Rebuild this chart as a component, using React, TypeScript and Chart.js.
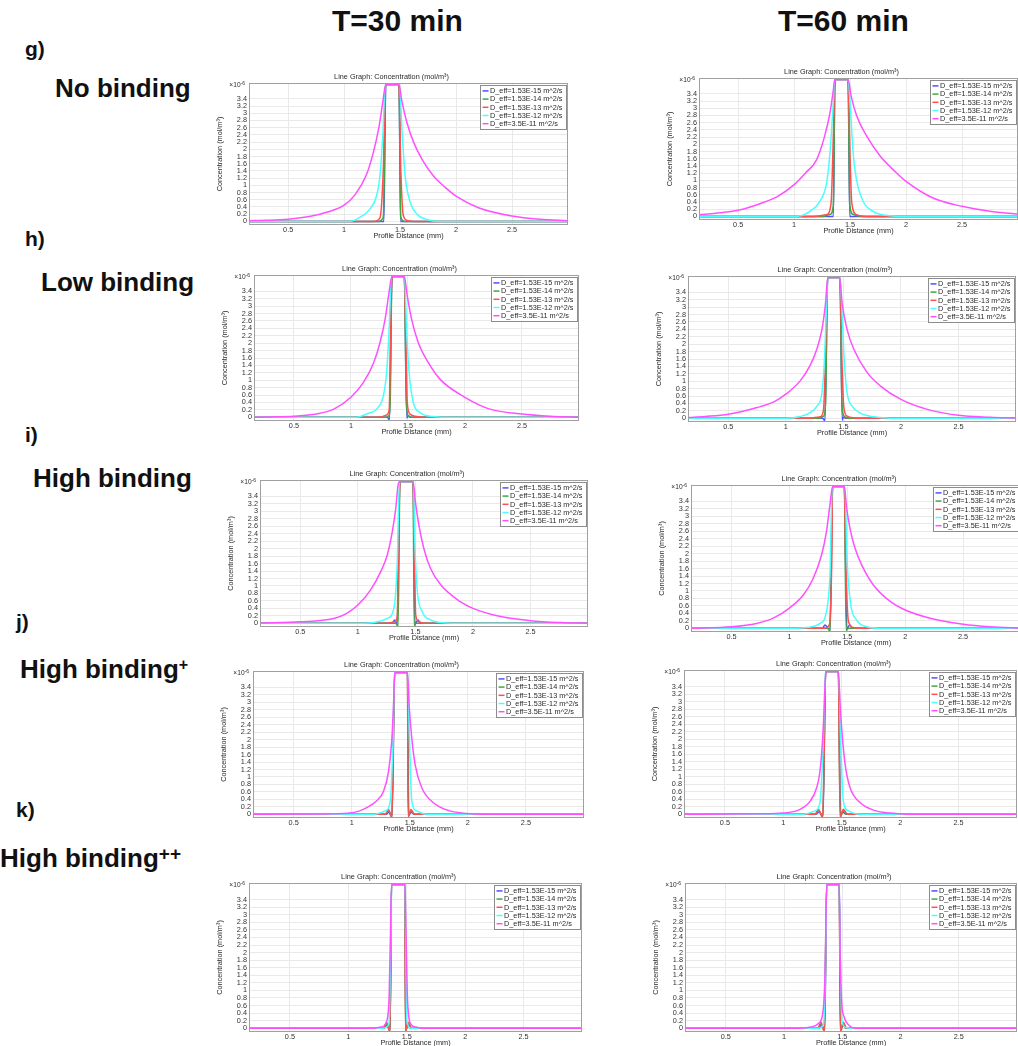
import React, { useEffect, useRef } from "react";
import { Chart, registerables } from "chart.js";
Chart.register(...registerables);

type Pt = [number, number];

const FONT = '"Liberation Sans", Arial, sans-serif';

const SERIES_LABELS = [
  "D_eff=1.53E-15 m^2/s",
  "D_eff=1.53E-14 m^2/s",
  "D_eff=1.53E-13 m^2/s",
  "D_eff=1.53E-12 m^2/s",
  "D_eff=3.5E-11 m^2/s",
];
const SERIES_COLORS = ["#5050ff", "#40a840", "#ff5050", "#48ffff", "#ff50ff"];
const X_TICKS = [0.5, 1, 1.5, 2, 2.5];
const Y_TICKS = [0, 0.2, 0.4, 0.6, 0.8, 1, 1.2, 1.4, 1.6, 1.8, 2, 2.2, 2.4, 2.6, 2.8, 3, 3.2, 3.4];
const X_MIN = 0.15;
const X_MAX = 3.0;
const Y_MIN = -0.1;
const Y_MAX = 3.84;
const CHART_TITLE = "Line Graph: Concentration (mol/m³)";
const X_TITLE = "Profile Distance (mm)";
const Y_TITLE = "Concentration (mol/m³)";
const COLUMN_HEADERS = ["T=30 min", "T=60 min"];

// ---------- g) No binding ----------
const G30_BLUE: Pt[] = [[0.15,0],[1.355,0],[1.372,3.8],[1.49,3.8],[1.505,0],[3.0,0]];
const G30_GREEN: Pt[] = [[0.15,0],[1.31,0],[1.35,0.12],[1.372,3.8],[1.49,3.8],[1.505,0.12],[1.54,0],[3.0,0]];
const G30_RED: Pt[] = [[0.15,0],[1.26,0],[1.32,0.1],[1.35,1.45],[1.37,3.8],[1.49,3.8],[1.506,1.45],[1.53,0.15],[1.57,0.02],[1.62,0],[3.0,0]];
const G30_CYAN: Pt[] = [[0.15,0],[1.05,0],[1.14,0.11],[1.23,0.34],[1.29,0.71],[1.32,1.26],[1.345,2.37],[1.368,3.8],[1.493,3.8],[1.52,2.37],[1.545,1.26],[1.59,0.53],[1.65,0.2],[1.74,0.05],[1.86,0],[3.0,0]];
const G30_MAGENTA: Pt[] = [[0.15,0.02],[0.3,0.03],[0.5,0.06],[0.7,0.14],[0.85,0.26],[1.0,0.45],[1.1,0.75],[1.2,1.3],[1.26,1.9],[1.31,2.6],[1.345,3.3],[1.372,3.8],[1.49,3.8],[1.515,3.35],[1.56,2.75],[1.62,2.2],[1.7,1.7],[1.8,1.25],[1.9,0.95],[2.0,0.7],[2.2,0.38],[2.5,0.15],[2.75,0.06],[3.0,0.02]];

const G60_BLUE: Pt[] = [[0.15,0],[1.35,0],[1.365,3.8],[1.482,3.8],[1.497,0],[3,0]];
const G60_GREEN: Pt[] = [[0.15,0],[1.25,0],[1.32,0.05],[1.35,0.3],[1.365,3.8],[1.482,3.8],[1.497,0.3],[1.53,0.05],[1.6,0],[3,0]];
const G60_RED: Pt[] = [[0.15,0],[1.17,0],[1.29,0.05],[1.33,0.37],[1.35,2.2],[1.364,3.8],[1.482,3.8],[1.495,2.2],[1.515,0.37],[1.557,0.05],[1.65,0],[3,0]];
const G60_CYAN: Pt[] = [[0.15,0],[1.02,0],[1.14,0.14],[1.23,0.42],[1.29,0.93],[1.32,1.76],[1.35,3.15],[1.363,3.8],[1.482,3.8],[1.5,3.15],[1.527,1.76],[1.557,1.02],[1.616,0.42],[1.705,0.14],[1.82,0.03],[1.94,0],[3,0]];
const G60_MAGENTA: Pt[] = [[0.15,0.05],[0.3,0.09],[0.5,0.17],[0.7,0.36],[0.85,0.55],[1.0,0.88],[1.1,1.2],[1.2,1.57],[1.27,2.2],[1.32,2.87],[1.35,3.5],[1.363,3.8],[1.482,3.8],[1.51,3.33],[1.56,2.78],[1.65,2.22],[1.77,1.67],[1.9,1.25],[2.0,0.97],[2.24,0.51],[2.5,0.28],[2.75,0.14],[3.0,0.065]];

// ---------- h) Low binding ----------
const H30_BLUE: Pt[] = [[0.15,0],[1.32,0],[1.338,-0.08],[1.36,3.8],[1.468,3.8],[1.49,-0.02],[1.502,0.05],[1.52,0],[3,0]];
const H30_GREEN: Pt[] = [[0.15,0],[1.3,0],[1.335,0.05],[1.345,0.5],[1.36,3.8],[1.468,3.8],[1.485,0.5],[1.5,0.05],[1.53,0],[3,0]];
const H30_RED: Pt[] = [[0.15,0],[1.25,0],[1.313,0.06],[1.336,0.22],[1.348,2.38],[1.36,3.8],[1.468,3.8],[1.48,2.38],[1.494,0.4],[1.518,0.09],[1.576,0.02],[1.66,0],[3,0]];
const H30_CYAN: Pt[] = [[0.15,0],[1.05,0],[1.137,0.09],[1.225,0.22],[1.284,0.58],[1.313,1.21],[1.335,2.38],[1.355,3.8],[1.47,3.8],[1.488,2.38],[1.51,1.21],[1.547,0.4],[1.605,0.13],[1.72,0.02],[1.84,0],[3,0]];
const H30_MAGENTA: Pt[] = [[0.15,0],[0.3,0.01],[0.5,0.03],[0.7,0.09],[0.85,0.22],[1.0,0.54],[1.11,0.94],[1.2,1.48],[1.255,2.02],[1.3,2.65],[1.33,3.28],[1.36,3.8],[1.468,3.8],[1.494,3.28],[1.532,2.65],[1.59,2.02],[1.678,1.48],[1.78,1.03],[2.0,0.54],[2.22,0.22],[2.5,0.09],[2.75,0.03],[3.0,0]];

const H60_BLUE: Pt[] = [[0.15,0],[1.32,0],[1.34,-0.07],[1.364,3.8],[1.47,3.8],[1.49,-0.05],[1.5,0.03],[1.52,0],[3,0]];
const H60_GREEN: Pt[] = [[0.15,0],[1.28,0],[1.33,0.06],[1.345,0.4],[1.364,3.8],[1.47,3.8],[1.488,0.4],[1.505,0.06],[1.55,0],[3,0]];
const H60_RED: Pt[] = [[0.15,0],[1.18,0],[1.3,0.04],[1.328,0.24],[1.343,1.5],[1.362,3.8],[1.47,3.8],[1.488,1.5],[1.503,0.33],[1.532,0.06],[1.648,0],[3,0]];
const H60_CYAN: Pt[] = [[0.15,0],[1.0,0],[1.125,0.05],[1.212,0.15],[1.27,0.33],[1.314,0.69],[1.334,1.5],[1.352,2.86],[1.363,3.8],[1.47,3.8],[1.488,2.86],[1.509,1.5],[1.532,0.69],[1.576,0.33],[1.648,0.14],[1.765,0.04],[1.91,0],[3,0]];
const H60_MAGENTA: Pt[] = [[0.15,0.02],[0.3,0.05],[0.5,0.11],[0.75,0.29],[0.9,0.45],[1.0,0.65],[1.125,1.01],[1.21,1.42],[1.27,1.87],[1.314,2.4],[1.343,3.04],[1.366,3.8],[1.468,3.8],[1.488,3.13],[1.532,2.4],[1.59,1.87],[1.706,1.24],[1.823,0.87],[2.0,0.51],[2.23,0.24],[2.5,0.08],[2.78,0.03],[3.0,0.01]];

// ---------- i) High binding ----------
const I30_BLUE: Pt[] = [[0.15,0],[1.3,0],[1.32,0.09],[1.342,-0.03],[1.366,3.8],[1.48,3.8],[1.495,-0.03],[1.523,0.09],[1.545,0],[3,0]];
const I30_GREEN: Pt[] = [[0.15,0],[1.33,0],[1.35,-0.09],[1.366,3.8],[1.48,3.8],[1.49,-0.09],[1.505,0],[3,0]];
const I30_RED: Pt[] = [[0.15,0],[1.256,0],[1.32,0.04],[1.342,0.18],[1.355,2.46],[1.366,3.8],[1.48,3.8],[1.49,2.2],[1.503,0.22],[1.532,0.04],[1.575,0],[3,0]];
const I30_CYAN: Pt[] = [[0.15,0],[1.05,0],[1.14,0.02],[1.255,0.13],[1.313,0.4],[1.342,1.57],[1.362,3.8],[1.482,3.8],[1.497,2.01],[1.517,0.85],[1.56,0.31],[1.63,0.09],[1.72,0.02],[1.83,0],[3,0]];
const I30_MAGENTA: Pt[] = [[0.15,0.01],[0.5,0.04],[0.79,0.13],[0.9,0.26],[1.0,0.49],[1.11,0.89],[1.2,1.39],[1.256,1.83],[1.3,2.46],[1.33,3.09],[1.35,3.71],[1.366,3.8],[1.48,3.8],[1.5,3.26],[1.53,2.64],[1.573,2.01],[1.63,1.48],[1.72,1.03],[1.89,0.58],[2.0,0.4],[2.24,0.18],[2.5,0.07],[2.76,0.02],[3.0,0]];

const I60_BLUE: Pt[] = [[0.15,0],[1.285,0],[1.307,0.09],[1.35,-0.06],[1.373,3.8],[1.474,3.8],[1.495,-0.03],[1.52,0.09],[1.545,0],[3,0]];
const I60_GREEN: Pt[] = [[0.15,0],[1.33,0],[1.352,-0.08],[1.373,3.8],[1.474,3.8],[1.49,-0.06],[1.51,0],[3,0]];
const I60_RED: Pt[] = [[0.15,0],[1.3,0],[1.345,0.09],[1.365,1.7],[1.373,3.8],[1.474,3.8],[1.487,1.7],[1.51,0.18],[1.55,0.02],[1.61,0],[3,0]];
const I60_CYAN: Pt[] = [[0.15,0],[1.05,0],[1.15,0.02],[1.264,0.13],[1.32,0.45],[1.35,1.43],[1.37,3.8],[1.478,3.8],[1.5,1.7],[1.53,0.63],[1.58,0.22],[1.67,0.04],[1.78,0],[3,0]];
const I60_MAGENTA: Pt[] = [[0.15,0],[0.5,0.04],[0.716,0.13],[0.86,0.27],[1.0,0.54],[1.12,0.89],[1.206,1.34],[1.278,1.97],[1.32,2.59],[1.35,3.31],[1.373,3.8],[1.474,3.8],[1.494,3.22],[1.523,2.68],[1.566,2.15],[1.624,1.7],[1.725,1.16],[1.87,0.72],[2.0,0.49],[2.215,0.27],[2.5,0.11],[2.73,0.04],[3.0,0]];

// ---------- j) High binding+ ----------
const J30_BLUE: Pt[] = [[0.15,0],[1.3,0],[1.32,0.06],[1.348,-0.05],[1.37,3.8],[1.48,3.8],[1.49,-0.04],[1.512,0.06],[1.535,0],[3,0]];
const J30_GREEN: Pt[] = [[0.15,0],[1.29,0],[1.315,0.1],[1.345,-0.08],[1.37,3.8],[1.48,3.8],[1.487,-0.06],[1.51,0.1],[1.54,0],[3,0]];
const J30_RED: Pt[] = [[0.15,0],[1.29,0],[1.317,0.13],[1.346,-0.09],[1.37,3.8],[1.48,3.8],[1.486,-0.07],[1.51,0.13],[1.54,0],[3,0]];
const J30_CYAN: Pt[] = [[0.15,0],[1.19,0],[1.29,0.09],[1.33,0.31],[1.356,2.04],[1.368,3.8],[1.482,3.8],[1.497,2.04],[1.517,0.36],[1.56,0.09],[1.646,0],[3,0]];
const J30_MAGENTA: Pt[] = [[0.15,0],[0.8,0.01],[1.0,0.04],[1.13,0.18],[1.216,0.36],[1.274,0.62],[1.317,1.15],[1.346,2.04],[1.36,2.93],[1.37,3.8],[1.48,3.8],[1.494,2.93],[1.517,2.04],[1.546,1.33],[1.603,0.71],[1.703,0.31],[1.846,0.09],[1.99,0.02],[2.13,0],[3,0]];

const J60_BLUE: Pt[] = [[0.15,0],[1.28,0],[1.305,0.06],[1.34,-0.04],[1.363,3.8],[1.471,3.8],[1.49,-0.03],[1.51,0.06],[1.535,0],[3,0]];
const J60_GREEN: Pt[] = [[0.15,0],[1.275,0],[1.302,0.1],[1.338,-0.07],[1.363,3.8],[1.471,3.8],[1.487,-0.06],[1.512,0.1],[1.545,0],[3,0]];
const J60_RED: Pt[] = [[0.15,0],[1.27,0],[1.3,0.13],[1.337,-0.09],[1.363,3.8],[1.471,3.8],[1.486,-0.09],[1.514,0.13],[1.55,0],[3,0]];
const J60_CYAN: Pt[] = [[0.15,0],[1.17,0],[1.27,0.09],[1.314,0.31],[1.343,2.03],[1.36,3.8],[1.474,3.8],[1.49,2.03],[1.514,0.35],[1.557,0.09],[1.657,0],[3,0]];
const J60_MAGENTA: Pt[] = [[0.15,0],[0.8,0.01],[1.0,0.03],[1.143,0.13],[1.23,0.35],[1.286,0.71],[1.314,1.15],[1.337,2.03],[1.351,2.92],[1.363,3.8],[1.471,3.8],[1.486,2.92],[1.506,2.03],[1.529,1.33],[1.571,0.71],[1.657,0.31],[1.771,0.11],[1.914,0.03],[2.06,0],[3,0]];

// ---------- k) High binding++ ----------
const K30_BLUE: Pt[] = [[0.15,0],[1.305,0],[1.328,0.08],[1.358,-0.05],[1.37,3.8],[1.485,3.8],[1.491,-0.05],[1.51,0.08],[1.535,0],[3,0]];
const K30_GREEN: Pt[] = [[0.15,0],[1.3,0],[1.327,0.12],[1.357,-0.08],[1.37,3.8],[1.485,3.8],[1.49,-0.08],[1.511,0.12],[1.54,0],[3,0]];
const K30_RED: Pt[] = [[0.15,0],[1.3,0],[1.328,0.16],[1.356,-0.1],[1.37,3.8],[1.485,3.8],[1.489,-0.1],[1.512,0.16],[1.545,0],[3,0]];
const K30_CYAN: Pt[] = [[0.15,0],[1.3,0],[1.348,0.11],[1.365,2.67],[1.37,3.8],[1.485,3.8],[1.49,2.67],[1.502,0.2],[1.535,0],[3,0]];
const K30_MAGENTA: Pt[] = [[0.15,0],[1.22,0],[1.28,0.03],[1.33,0.2],[1.35,0.9],[1.362,2.67],[1.37,3.8],[1.485,3.8],[1.493,2.67],[1.507,0.73],[1.535,0.11],[1.58,0.03],[1.62,0],[3,0]];

const K60_BLUE: Pt[] = [[0.15,0],[1.295,0],[1.32,0.08],[1.35,-0.05],[1.366,3.8],[1.474,3.8],[1.486,-0.05],[1.506,0.08],[1.53,0],[3,0]];
const K60_GREEN: Pt[] = [[0.15,0],[1.29,0],[1.318,0.12],[1.348,-0.08],[1.366,3.8],[1.474,3.8],[1.484,-0.08],[1.507,0.12],[1.535,0],[3,0]];
const K60_RED: Pt[] = [[0.15,0],[1.29,0],[1.318,0.16],[1.346,-0.1],[1.366,3.8],[1.474,3.8],[1.483,-0.1],[1.508,0.16],[1.54,0],[3,0]];
const K60_CYAN: Pt[] = [[0.15,0],[1.3,0],[1.34,0.11],[1.36,2.5],[1.366,3.8],[1.474,3.8],[1.48,2.5],[1.497,0.2],[1.53,0.02],[1.56,0],[3,0]];
const K60_MAGENTA: Pt[] = [[0.15,0],[1.15,0],[1.23,0.03],[1.29,0.11],[1.332,0.38],[1.346,0.91],[1.355,1.79],[1.366,3.8],[1.474,3.8],[1.483,1.79],[1.494,0.73],[1.517,0.29],[1.56,0.07],[1.6,0],[3,0]];

// layout (plot area rectangles in page pixels)
type PanelDef = { id: string; L: number; T: number; W: number; H: number; series: Pt[][] };
const PANELS: PanelDef[] = [
  { id: "g30", L: 249, T: 83, W: 319, H: 142, series: [G30_BLUE, G30_GREEN, G30_RED, G30_CYAN, G30_MAGENTA] },
  { id: "g60", L: 699, T: 78, W: 319, H: 142, series: [G60_BLUE, G60_GREEN, G60_RED, G60_CYAN, G60_MAGENTA] },
  { id: "h30", L: 254, T: 275, W: 325, H: 146, series: [H30_BLUE, H30_GREEN, H30_RED, H30_CYAN, H30_MAGENTA] },
  { id: "h60", L: 688, T: 276, W: 328, H: 146, series: [H60_BLUE, H60_GREEN, H60_RED, H60_CYAN, H60_MAGENTA] },
  { id: "i30", L: 260, T: 480, W: 328, H: 147, series: [I30_BLUE, I30_GREEN, I30_RED, I30_CYAN, I30_MAGENTA] },
  { id: "i60", L: 691, T: 485, W: 330, H: 147, series: [I60_BLUE, I60_GREEN, I60_RED, I60_CYAN, I60_MAGENTA] },
  { id: "j30", L: 253, T: 671, W: 331, H: 147, series: [J30_BLUE, J30_GREEN, J30_RED, J30_CYAN, J30_MAGENTA] },
  { id: "j60", L: 684, T: 670, W: 333, H: 148, series: [J60_BLUE, J60_GREEN, J60_RED, J60_CYAN, J60_MAGENTA] },
  { id: "k30", L: 249, T: 883, W: 333, H: 149, series: [K30_BLUE, K30_GREEN, K30_RED, K30_CYAN, K30_MAGENTA] },
  { id: "k60", L: 685, T: 883, W: 332, H: 149, series: [K60_BLUE, K60_GREEN, K60_RED, K60_CYAN, K60_MAGENTA] },
];

const PAD_L = 36;
const PAD_R = 3;
const PAD_T = 12;
const PAD_B = 15;

const decorPlugin = {
  id: "decor",
  afterDatasetsDraw(chart: any) {
    const { ctx, chartArea: a } = chart;
    ctx.save();
    // frame
    ctx.strokeStyle = "#a0a0a0";
    ctx.lineWidth = 1;
    ctx.strokeRect(Math.round(a.left) + 0.5, Math.round(a.top) + 0.5, Math.round(a.right - a.left) - 1, Math.round(a.bottom - a.top) - 1);
    // legend
    ctx.font = `7.3px ${FONT}`;
    const tw = Math.max(...SERIES_LABELS.map((l) => ctx.measureText(l).width));
    const rowH = 8.2;
    const bw = Math.round(2.5 + 6 + 1.5 + tw + 3.5);
    const bh = Math.round(rowH * 5 + 3);
    const bx = Math.round(a.right - 2 - bw);
    const by = Math.round(a.top + 2);
    ctx.fillStyle = "#ffffff";
    ctx.fillRect(bx, by, bw, bh);
    ctx.strokeStyle = "#8c8c8c";
    ctx.strokeRect(bx + 0.5, by + 0.5, bw, bh);
    ctx.textBaseline = "middle";
    ctx.textAlign = "left";
    SERIES_LABELS.forEach((lab, i) => {
      const cy = by + 1.8 + rowH * (i + 0.5);
      ctx.strokeStyle = SERIES_COLORS[i];
      ctx.lineWidth = 1.5;
      ctx.beginPath();
      ctx.moveTo(bx + 2.5, cy);
      ctx.lineTo(bx + 8.5, cy);
      ctx.stroke();
      ctx.fillStyle = "#2a2a2a";
      ctx.fillText(lab, bx + 10, cy + 0.3);
    });
    ctx.restore();
  },
  afterDraw(chart: any) {
    const { ctx, chartArea: a } = chart;
    ctx.save();
    ctx.fillStyle = "#2a2a2a";
    ctx.font = `7.3px ${FONT}`;
    ctx.textAlign = "center";
    ctx.textBaseline = "middle";
    ctx.fillText(CHART_TITLE, (a.left + a.right) / 2 - 17, a.top - 6.5);
    // x10^-6 multiplier
    ctx.font = `5px ${FONT}`;
    const w2 = ctx.measureText("-6").width;
    ctx.font = `6.6px ${FONT}`;
    const w1 = ctx.measureText("×10").width;
    const right = a.left - 4;
    ctx.textAlign = "left";
    ctx.fillText("×10", right - w2 - w1, a.top + 2.5);
    ctx.font = `5px ${FONT}`;
    ctx.fillText("-6", right - w2, a.top + 0.3);
    ctx.restore();
  },
};

function Panel({ p }: { p: PanelDef }) {
  const ref = useRef<HTMLCanvasElement | null>(null);
  const cw = p.W + PAD_L + PAD_R;
  const chh = p.H + PAD_T + PAD_B;
  useEffect(() => {
    if (!ref.current) return;
    const datasets = p.series.map((s, i) => ({
      label: SERIES_LABELS[i],
      data: s.map(([x, y]) => ({ x, y })),
      borderColor: SERIES_COLORS[i],
      backgroundColor: SERIES_COLORS[i],
      borderWidth: 1.5,
      pointRadius: 0,
      fill: false,
      cubicInterpolationMode: "monotone" as const,
      order: 4 - i,
    }));
    const tickFont = { family: FONT, size: 7.3 };
    const chart = new Chart(ref.current, {
      type: "line",
      data: { datasets },
      options: {
        responsive: false,
        animation: false,
        devicePixelRatio: 1,
        layout: { padding: { left: 0, right: PAD_R, top: PAD_T, bottom: 0 } },
        plugins: { legend: { display: false }, title: { display: false }, tooltip: { enabled: false } },
        events: [],
        scales: {
          x: {
            type: "linear",
            min: X_MIN,
            max: X_MAX,
            afterBuildTicks: (scale: any) => {
              scale.ticks = X_TICKS.map((v) => ({ value: v }));
            },
            afterFit: (scale: any) => {
              scale.height = PAD_B;
            },
            ticks: {
              font: tickFont,
              color: "#333333",
              padding: 1,
              maxRotation: 0,
              autoSkip: false,
              callback: (v: any) => `${v}`,
            },
            grid: { color: "#e9e9e9", lineWidth: 1, drawTicks: false },
            border: { display: false },
            title: { display: true, text: X_TITLE, font: { family: FONT, size: 7.3 }, color: "#2a2a2a", padding: { top: 0, bottom: 0 } },
          },
          y: {
            type: "linear",
            min: Y_MIN,
            max: Y_MAX,
            afterBuildTicks: (scale: any) => {
              scale.ticks = Y_TICKS.map((v) => ({ value: v }));
            },
            afterFit: (scale: any) => {
              scale.width = PAD_L;
            },
            ticks: {
              font: tickFont,
              color: "#333333",
              padding: 2,
              autoSkip: false,
              callback: (v: any) => `${v}`,
            },
            grid: { color: "#e9e9e9", lineWidth: 1, drawTicks: false },
            border: { display: false },
            title: { display: true, text: Y_TITLE, font: { family: FONT, size: 7.3 }, color: "#2a2a2a", padding: { top: 3, bottom: 0 } },
          },
        },
      },
      plugins: [decorPlugin],
    } as any);
    return () => chart.destroy();
  }, [p]);
  return (
    <canvas
      ref={ref}
      width={cw}
      height={chh}
      style={{ position: "absolute", left: p.L - PAD_L, top: p.T - PAD_T, width: cw, height: chh }}
    />
  );
}

function Label({ text, left, baseline, size, sup, supSize, supShift }: { text: string; left: number; baseline: number; size: number; sup?: string; supSize?: number; supShift?: number }) {
  return (
    <div
      style={{
        position: "absolute",
        left,
        top: baseline - 0.8465 * size,
        fontSize: size,
        lineHeight: `${size}px`,
        fontWeight: 700,
        whiteSpace: "nowrap",
        color: "#111",
        fontFamily: FONT,
      }}
    >
      {text}
      {sup ? (
        <span style={{ fontSize: supSize, position: "relative", top: supShift }}>{sup}</span>
      ) : null}
    </div>
  );
}

export default function App() {
  return (
    <div style={{ position: "absolute", left: 0, top: 0, width: 1018, height: 1046, overflow: "hidden", background: "#fff" }}>
      <Label text={COLUMN_HEADERS[0]} left={332} baseline={31} size={30} />
      <Label text={COLUMN_HEADERS[1]} left={778} baseline={31} size={30} />

      <Label text="g)" left={25} baseline={56} size={21} />
      <Label text="No binding" left={55} baseline={97} size={26} />
      <Label text="h)" left={25} baseline={246} size={21} />
      <Label text="Low binding" left={41} baseline={291} size={26} />
      <Label text="i)" left={25} baseline={442} size={21} />
      <Label text="High binding" left={33} baseline={487} size={26} />
      <Label text="j)" left={16} baseline={629} size={21} />
      <Label text="High binding" left={20} baseline={678} size={26} sup="+" supSize={16} supShift={-8} />
      <Label text="k)" left={16} baseline={817} size={21} />
      <Label text="High binding" left={0} baseline={867} size={26} sup="++" supSize={19} supShift={-7} />

      {PANELS.map((p) => (
        <Panel key={p.id} p={p} />
      ))}
    </div>
  );
}
